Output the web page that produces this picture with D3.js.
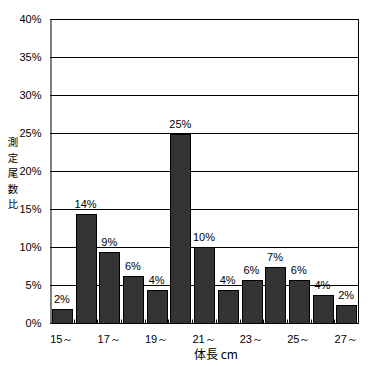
<!DOCTYPE html>
<html lang="ja">
<head>
<meta charset="UTF-8">
<title>体長組成</title>
<script src="https://d3js.org/d3.v7.min.js"></script>
<style>
  body { margin: 0; background: #fff; }
  svg { display: block; opacity: 0.999; }
  text { font-family: "Liberation Sans", Arial, sans-serif; font-size: 11px; fill: #000; }
  .jp { font-family: "Noto Sans CJK JP", sans-serif; font-size: 12px; }
  .yt { font-size: 10.5px; }
</style>
</head>
<body>
<svg></svg>
<script>
const categories = ['15', '16', '17', '18', '19', '20', '21', '22', '23', '24', '25', '26', '27']
const values = [1.8, 14.3, 9.3, 6.2, 4.3, 24.9, 10.0, 4.3, 5.7, 7.4, 5.7, 3.7, 2.4]
const yTicks = [0, 5, 10, 15, 20, 25, 30, 35, 40]
const xLabelled = ['15', '17', '19', '21', '23', '25', '27']
const yTitle = ['測', '定', '尾', '数', '比']

const [width, height] = [371, 366]
const m = {left: 50, right: 13, top: 19, bottom: 43}
const svg = d3.select('svg').attr('width', width).attr('height', height)

const x = d3.scaleBand().domain(categories)
    .range([m.left, width - m.right]).paddingInner(0.17).paddingOuter(0.085)
const y = d3.scaleLinear().domain([0, 40]).range([height - m.bottom, m.top])

// grid lines
svg.append('g').selectAll('line').data(yTicks.filter(d => d > 0))
  .join('line')
    .attr('x1', m.left).attr('x2', width - m.right)
    .attr('y1', d => Math.round(y(d)) + .5).attr('y2', d => Math.round(y(d)) + .5)
    .attr('stroke', '#000').attr('stroke-width', 1)

// right edge
svg.append('line')
    .attr('x1', width - m.right + .5).attr('x2', width - m.right + .5)
    .attr('y1', Math.round(y(40))).attr('y2', Math.round(y(0)))
    .attr('stroke', '#000')

// bars
svg.append('g').selectAll('rect').data(values)
  .join('rect')
    .attr('x', (d, i) => Math.round(x(categories[i])) + .5)
    .attr('y', d => Math.round(y(d)) + .5)
    .attr('width', Math.round(x.bandwidth()))
    .attr('height', d => Math.round(y(0)) - Math.round(y(d)))
    .attr('fill', '#333333').attr('stroke', '#000')

// value labels
svg.append('g').selectAll('text').data(values)
  .join('text')
    .attr('x', (d, i) => x(categories[i]) + x.bandwidth() / 2)
    .attr('y', d => y(d) - 6)
    .attr('text-anchor', 'middle')
    .text(d => Math.round(d) + '%')

// y axis
const yAxis = svg.append('g').attr('transform', `translate(${m.left + .5},0)`)
    .call(d3.axisLeft(y).tickValues(yTicks).tickSize(0).tickPadding(9).tickFormat(d => d + '%'))
yAxis.select('.domain').attr('stroke', '#000')
yAxis.selectAll('text').attr('font-size', null).attr('font-family', null).attr('dy', '0.35em')

// x axis with ticks at band boundaries
const x0 = Math.round(y(0)) + .5
svg.append('line').attr('x1', m.left).attr('x2', width - m.right + 1)
    .attr('y1', x0).attr('y2', x0).attr('stroke', '#000')
svg.append('g').selectAll('line').data(categories.slice(1))
  .join('line')
    .attr('x1', d => Math.round(x(d) - x.step() * x.paddingInner() / 2) + .5)
    .attr('x2', d => Math.round(x(d) - x.step() * x.paddingInner() / 2) + .5)
    .attr('y1', x0).attr('y2', x0 - 4).attr('stroke', '#000')

svg.append('g').selectAll('text').data(xLabelled)
  .join('text')
    .attr('x', d => x(d) + x.bandwidth() / 2)
    .attr('y', height - m.bottom + 20)
    .attr('text-anchor', 'middle')
    .text(d => d + '～')

svg.append('text').attr('class', 'jp')
    .attr('x', 216).attr('y', 359).attr('text-anchor', 'middle')
    .text('体長 cm')

svg.append('g').selectAll('text').data(yTitle)
  .join('text').attr('class', 'jp yt')
    .attr('x', 13)
    .attr('y', (d, i) => 146 + i * 15.5)
    .attr('text-anchor', 'middle')
    .text(d => d)
</script>
</body>
</html>
